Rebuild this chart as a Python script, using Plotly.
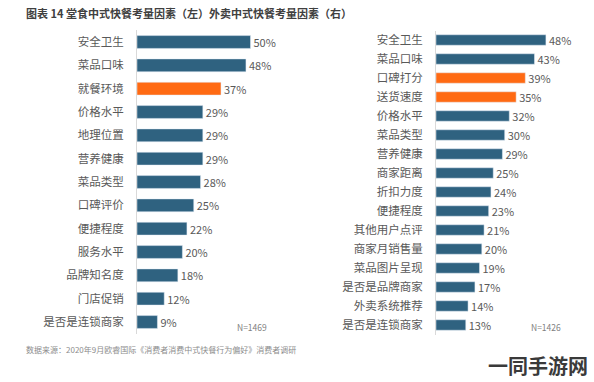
import plotly.graph_objects as go

left_cats = ["安全卫生", "菜品口味", "就餐环境", "价格水平", "地理位置", "营养健康", "菜品类型",
             "口碑评价", "便捷程度", "服务水平", "品牌知名度", "门店促销", "是否是连锁商家"]
left_vals = [50, 48, 37, 29, 29, 29, 28, 25, 22, 20, 18, 12, 9]
left_hi = ["就餐环境"]

right_cats = ["安全卫生", "菜品口味", "口碑打分", "送货速度", "价格水平", "菜品类型", "营养健康",
              "商家距离", "折扣力度", "便捷程度", "其他用户点评", "商家月销售量", "菜品图片呈现",
              "是否是品牌商家", "外卖系统推荐", "是否是连锁商家"]
right_vals = [48, 43, 39, 35, 32, 30, 29, 25, 24, 23, 21, 20, 19, 17, 14, 13]
right_hi = ["口碑打分", "送货速度"]

title = "图表 14 堂食中式快餐考量因素（左）外卖中式快餐考量因素（右）"
source = "数据来源：2020年9月欧睿国际《消费者消费中式快餐行为偏好》消费者调研"
n_left = "N=1469"
n_right = "N=1426"

BLUE = "#2F6280"
ORANGE = "#FF6A13"
TXT = "#595959"
FONT = "Noto Sans CJK SC"

W, H = 594, 382

def colors(cats, hi):
    return [ORANGE if c in hi else BLUE for c in cats]

fig = go.Figure()
fig.add_trace(go.Bar(
    x=left_vals, y=left_cats, orientation="h", marker_color=colors(left_cats, left_hi),
    width=0.55, text=[f"{v}%" for v in left_vals], textposition="outside", constraintext="none",
    textfont=dict(size=11, color=TXT, family=FONT), cliponaxis=False,
    xaxis="x", yaxis="y", showlegend=False))
fig.add_trace(go.Bar(
    x=right_vals, y=right_cats, orientation="h", marker_color=colors(right_cats, right_hi),
    width=0.55, text=[f"{v}%" for v in right_vals], textposition="outside", constraintext="none",
    textfont=dict(size=11, color=TXT, family=FONT), cliponaxis=False,
    xaxis="x2", yaxis="y2", showlegend=False))

# pixel geometry
lx0, lpx = 137, 2.27
rx0, rpx = 436, 2.29
xr = 60
ltop, lbot = 42 - 11.67, 322 + 11.67
rtop, rbot = 40 - 9.5, 325 + 9.5

axcommon = dict(showgrid=False, zeroline=False, showticklabels=False, ticks="", range=[0, xr], fixedrange=True)
ycommon = dict(showgrid=False, zeroline=False, ticks="", autorange="reversed", showline=True,
               linecolor="#D9D9D9", linewidth=1, tickfont=dict(size=11.5, color=TXT, family=FONT),
               ticklabelstandoff=10)

fig.update_layout(
    width=W, height=H, margin=dict(l=0, r=0, t=0, b=0),
    paper_bgcolor="white", plot_bgcolor="white",
    bargap=0.45,
    font=dict(family=FONT, color=TXT),
    xaxis=dict(domain=[lx0 / W, (lx0 + xr * lpx) / W], anchor="y", **axcommon),
    yaxis=dict(domain=[1 - lbot / H, 1 - ltop / H], anchor="x", **ycommon),
    xaxis2=dict(domain=[rx0 / W, (rx0 + xr * rpx) / W], anchor="y2", **axcommon),
    yaxis2=dict(domain=[1 - rbot / H, 1 - rtop / H], anchor="x2", **ycommon),
)

fig.add_annotation(text=f"<b>{title}</b>", x=24 / W, y=1 - 13 / H, xref="paper", yref="paper",
                   xanchor="left", yanchor="middle", showarrow=False,
                   font=dict(size=11, color="#404040", family=FONT))
fig.add_annotation(text=source, x=24 / W, y=1 - 349 / H, xref="paper", yref="paper",
                   xanchor="left", yanchor="middle", showarrow=False,
                   font=dict(size=8, color="#8C8C8C", family=FONT))
fig.add_annotation(text=n_left, x=252 / W, y=1 - 327 / H, xref="paper", yref="paper",
                   xanchor="center", yanchor="middle", showarrow=False,
                   font=dict(size=8.5, color="#7F7F7F", family=FONT))
fig.add_annotation(text=n_right, x=546 / W, y=1 - 327 / H, xref="paper", yref="paper",
                   xanchor="center", yanchor="middle", showarrow=False,
                   font=dict(size=8.5, color="#7F7F7F", family=FONT))
fig.add_annotation(text="<b>一同手游网</b>", x=590 / W, y=1 - 365 / H, xref="paper", yref="paper",
                   xanchor="right", yanchor="middle", showarrow=False,
                   font=dict(size=20, color="#3A3A3A", family=FONT))

fig.write_html("out.html", config={"displayModeBar": False},
               post_script="document.body.style.margin='0px';")
